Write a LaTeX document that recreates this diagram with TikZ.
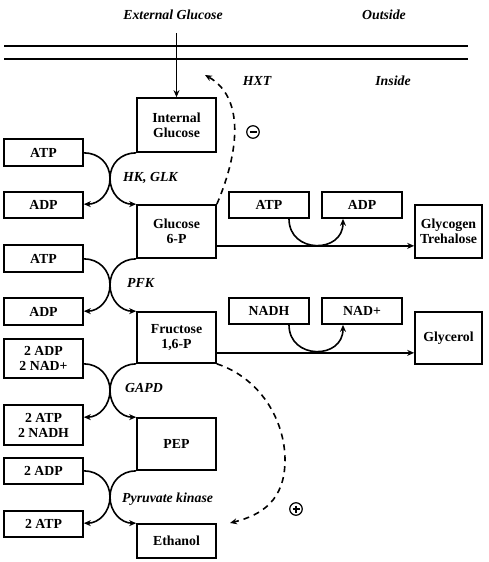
\documentclass[tikz,border=0pt]{standalone}
\usepackage{fontspec}
\setmainfont{Liberation Serif}
\usetikzlibrary{arrows.meta,calc}
\begin{document}
\begin{tikzpicture}[x=1pt,y=-1pt,
 box/.style={draw,line width=1.7pt,inner sep=0pt,align=center,minimum width=79pt,font=\fontsize{13.8}{15}\selectfont\bfseries},
 rbox/.style={box,minimum width=80pt,minimum height=26pt},
 lab/.style={font=\fontsize{13.8}{15}\selectfont\bfseries\itshape,inner sep=0pt},
 flow/.style={line width=1.6pt,-{Stealth[length=7pt,width=6pt]}},
 dflow/.style={flow,dash pattern=on 6pt off 5pt},
 sign/.style={circle,draw,line width=1.2pt,minimum size=12.5pt,inner sep=0pt},
 memb/.style={line width=1.7pt}]
\useasboundingbox (0,0) rectangle (488,562);

% membrane
\coordinate (ml1) at (4,46); \coordinate (mr1) at (468,46);
\coordinate (ml2) at (4,59); \coordinate (mr2) at (468,59);
\draw[memb] (ml1) -- (mr1);
\draw[memb] (ml2) -- (mr2);

% labels
\node[lab] (ext) at (173,15) {External Glucose};
\node[lab] (out) at (384,15) {Outside};
\node[lab] (hxt) at (257,81) {HXT};
\node[lab] (ins) at (393,81) {Inside};

% main column
\node[box,minimum height=54pt] (ig) at (176.5,125) {Internal\\Glucose};
\node[box,minimum height=53pt] (g6p) at (176.5,231.5) {Glucose\\6-P};
\node[box,minimum height=51pt] (f16p) at (176.5,337.5) {Fructose\\1,6-P};
\node[box,minimum height=52pt] (pep) at (176.5,444) {PEP};
\node[box,minimum height=34pt] (eth) at (176.5,541) {Ethanol};

% left column
\node[box,minimum height=27pt] (atp1) at (43.5,152.5) {ATP};
\node[box,minimum height=26pt] (adp1) at (43.5,205) {ADP};
\node[box,minimum height=27pt] (atp2) at (43.5,258.5) {ATP};
\node[box,minimum height=27pt] (adp2) at (43.5,311.5) {ADP};
\node[box,minimum height=39pt] (adpnad) at (43.5,358.5) {2 ADP\\2 NAD+};
\node[box,minimum height=40pt] (atpnadh) at (43.5,425) {2 ATP\\2 NADH};
\node[box,minimum height=26pt] (adp3) at (43.5,471) {2 ADP};
\node[box,minimum height=26pt] (atp3) at (43.5,524) {2 ATP};

% right side
\node[rbox] (ratp) at (269,205) {ATP};
\node[rbox] (radp) at (362,205) {ADP};
\node[box,minimum width=67pt,minimum height=53pt] (gly) at (448.5,231.5) {Glycogen\\Trehalose};
\node[rbox] (nadh) at (269,311) {NADH};
\node[rbox] (nadp) at (362,311) {NAD+};
\node[box,minimum width=67pt,minimum height=52pt] (glyc) at (448.5,338) {Glycerol};

% enzyme labels
\node[lab,anchor=west] (hk) at (123,178) {HK, GLK};
\node[lab,anchor=west] (pfk) at (127,283) {PFK};
\node[lab,anchor=west] (gapd) at (125,388) {GAPD};
\node[lab,anchor=west] (pk) at (122,499) {Pyruvate kinase};

% glucose uptake
\coordinate (gin) at (176.5,33);
\draw[flow] (gin) -- (ig.north);

% merge points
\coordinate (m1) at (110,178.5);
\coordinate (m2) at (110,285);
\coordinate (m3) at (110,390.5);
\coordinate (m4) at (110,497);

% step 1
\draw[flow] (atp1.east |- ig.south) .. controls +(15,0) and +(0,-15) .. (m1) .. controls +(0,15) and +(-15,0) .. (g6p.north west);
\draw[flow] (ig.south west) .. controls +(-15,0) and +(0,-15) .. (m1) .. controls +(0,15) and +(15,0) .. (adp1.east |- g6p.north);
% step 2
\draw[flow] (atp2.east |- g6p.south) .. controls +(15,0) and +(0,-15) .. (m2) .. controls +(0,15) and +(-15,0) .. (f16p.north west);
\draw[flow] (g6p.south west) .. controls +(-15,0) and +(0,-15) .. (m2) .. controls +(0,15) and +(15,0) .. (adp2.east |- f16p.north);
% step 3
\draw[flow] (adpnad.east |- f16p.south) .. controls +(15,0) and +(0,-15) .. (m3) .. controls +(0,15) and +(-15,0) .. (pep.north west);
\draw[flow] (f16p.south west) .. controls +(-15,0) and +(0,-15) .. (m3) .. controls +(0,15) and +(15,0) .. (atpnadh.east |- pep.north);
% step 4
\draw[flow] (adp3.east |- pep.south) .. controls +(15,0) and +(0,-15) .. (m4) .. controls +(0,15) and +(-15,0) .. (eth.north west);
\draw[flow] (pep.south west) .. controls +(-15,0) and +(0,-15) .. (m4) .. controls +(0,15) and +(15,0) .. (atp3.east |- eth.north);

% side branches
\coordinate (h1) at ($(g6p.south east)+(0,-13)$);
\draw[flow] (h1) -- (h1 -| gly.west);
\draw[flow] ($(ratp.south)+(20,0)$) .. controls +(0,35) and +(0,35) .. ($(radp.south)+(-19,0)$);
\coordinate (h2) at ($(f16p.south east)+(0,-11)$);
\draw[flow] (h2) -- (h2 -| glyc.west);
\draw[flow] ($(nadh.south)+(20,0)$) .. controls +(0,35) and +(0,35) .. ($(nadp.south)+(-19,0)$);

% regulation
\coordinate (inh) at (205,75);
\draw[dflow] (g6p.north east) .. controls (240,150) and (244,97) .. (inh);
\coordinate (act) at (230,523);
\draw[dflow] (f16p.south east) .. controls (260,378) and (285,420) .. (285,460) .. controls (285,500) and (262,515) .. (act);

\node[sign] (minus) at (253,132) {};
\draw[line width=1.2pt] ($(minus.center)+(-3.5,0)$) -- ($(minus.center)+(3.5,0)$);
\node[sign] (plus) at (296,509) {};
\draw[line width=1.2pt] ($(plus.center)+(-3.5,0)$) -- ($(plus.center)+(3.5,0)$);
\draw[line width=1.2pt] ($(plus.center)+(0,-3.5)$) -- ($(plus.center)+(0,3.5)$);
\end{tikzpicture}
\end{document}
